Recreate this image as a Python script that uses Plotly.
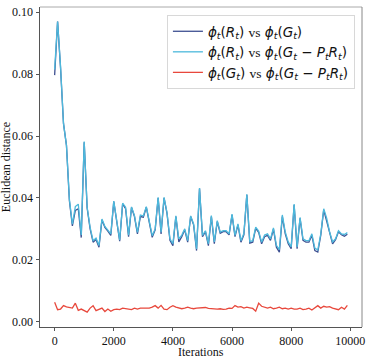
import plotly.graph_objects as go

iterations = list(range(0, 10000, 100))

dist_R_G = [
    0.0797, 0.0970, 0.0820, 0.0640, 0.0570, 0.0390, 0.0310, 0.0360, 0.0365, 0.0272,
    0.0580, 0.0367, 0.0300, 0.0257, 0.0266, 0.0241, 0.0329, 0.0305, 0.0293, 0.0279,
    0.0388, 0.0318, 0.0260, 0.0381, 0.0365, 0.0275, 0.0369, 0.0340, 0.0284, 0.0340,
    0.0338, 0.0370, 0.0318, 0.0273, 0.0297, 0.0400, 0.0284, 0.0400, 0.0350, 0.0263,
    0.0246, 0.0340, 0.0258, 0.0275, 0.0297, 0.0257, 0.0340, 0.0313, 0.0230, 0.0430,
    0.0275, 0.0291, 0.0246, 0.0340, 0.0252, 0.0324, 0.0286, 0.0291, 0.0291, 0.0281,
    0.0345, 0.0275, 0.0313, 0.0257, 0.0281, 0.0410, 0.0254, 0.0257, 0.0302, 0.0289,
    0.0252, 0.0275, 0.0279, 0.0263, 0.0299, 0.0241, 0.0225, 0.0340, 0.0284, 0.0252,
    0.0236, 0.0377, 0.0236, 0.0334, 0.0263, 0.0257, 0.0257, 0.0279, 0.0230, 0.0225,
    0.0279, 0.0361, 0.0325, 0.0284, 0.0252, 0.0265, 0.0291, 0.0281, 0.0276, 0.0283,
]

dist_R_GPR = [
    0.0815, 0.0970, 0.0825, 0.0640, 0.0570, 0.0395, 0.0315, 0.0372, 0.0380, 0.0280,
    0.0582, 0.0370, 0.0305, 0.0262, 0.0270, 0.0246, 0.0332, 0.0308, 0.0296, 0.0284,
    0.0390, 0.0320, 0.0264, 0.0383, 0.0370, 0.0280, 0.0371, 0.0343, 0.0289, 0.0345,
    0.0342, 0.0372, 0.0321, 0.0278, 0.0300, 0.0402, 0.0289, 0.0402, 0.0353, 0.0268,
    0.0252, 0.0342, 0.0268, 0.0280, 0.0300, 0.0262, 0.0342, 0.0316, 0.0235, 0.0432,
    0.0279, 0.0294, 0.0252, 0.0343, 0.0258, 0.0327, 0.0290, 0.0294, 0.0294, 0.0284,
    0.0348, 0.0279, 0.0316, 0.0262, 0.0285, 0.0412, 0.0259, 0.0262, 0.0306, 0.0293,
    0.0257, 0.0280, 0.0284, 0.0268, 0.0303, 0.0247, 0.0233, 0.0345, 0.0290, 0.0258,
    0.0242, 0.0380, 0.0242, 0.0337, 0.0268, 0.0262, 0.0262, 0.0284, 0.0238, 0.0232,
    0.0283, 0.0365, 0.0335, 0.0290, 0.0258, 0.0268, 0.0294, 0.0284, 0.0282, 0.0288,
]

dist_G_GPR = [
    0.0063, 0.0039, 0.0041, 0.0052, 0.0048, 0.0047, 0.0044, 0.0060, 0.0037, 0.0041,
    0.0037, 0.0031, 0.0044, 0.0052, 0.0036, 0.0041, 0.0044, 0.0033, 0.0041, 0.0034,
    0.0039, 0.0041, 0.0039, 0.0044, 0.0042, 0.0041, 0.0039, 0.0044, 0.0041, 0.0044,
    0.0044, 0.0042, 0.0044, 0.0047, 0.0052, 0.0044, 0.0053, 0.0041, 0.0039, 0.0047,
    0.0052, 0.0047, 0.0044, 0.0042, 0.0044, 0.0047, 0.0044, 0.0042, 0.0044, 0.0044,
    0.0044, 0.0046, 0.0043, 0.0042, 0.0041, 0.0041, 0.0042, 0.0040, 0.0041, 0.0044,
    0.0043, 0.0052, 0.0047, 0.0049, 0.0044, 0.0047, 0.0045, 0.0043, 0.0034, 0.0060,
    0.0050, 0.0047, 0.0044, 0.0047, 0.0042, 0.0044, 0.0047, 0.0042, 0.0044, 0.0041,
    0.0044, 0.0041, 0.0041, 0.0044, 0.0039, 0.0041, 0.0044, 0.0038, 0.0044, 0.0052,
    0.0044, 0.0050, 0.0047, 0.0049, 0.0044, 0.0042, 0.0039, 0.0047, 0.0041, 0.0053,
]

VS = "<span style='font-family:\"Liberation Serif\",serif'>vs</span>"
series_names = [
    "<i>ϕ<sub>t</sub></i>(<i>R<sub>t</sub></i>) " + VS + " <i>ϕ<sub>t</sub></i>(<i>G<sub>t</sub></i>)",
    "<i>ϕ<sub>t</sub></i>(<i>R<sub>t</sub></i>) " + VS + " <i>ϕ<sub>t</sub></i>(<i>G<sub>t</sub></i> − <i>P<sub>t</sub>R<sub>t</sub></i>)",
    "<i>ϕ<sub>t</sub></i>(<i>G<sub>t</sub></i>) " + VS + " <i>ϕ<sub>t</sub></i>(<i>G<sub>t</sub></i> − <i>P<sub>t</sub>R<sub>t</sub></i>)",
]
colors = ["#3d4f91", "#4db9dc", "#e8483c"]

x_ticks = [0, 2000, 4000, 6000, 8000, 10000]
y_ticks = [0.00, 0.02, 0.04, 0.06, 0.08, 0.10]

fig = go.Figure()
for vals, name, col in zip([dist_R_G, dist_R_GPR, dist_G_GPR], series_names, colors):
    fig.add_trace(go.Scatter(x=iterations, y=vals, mode="lines", name=name,
                             line=dict(color=col, width=1.3)))

SERIF = "Liberation Serif, Times New Roman, serif"
axis_font = dict(family=SERIF, size=12, color="#111")
fig.update_layout(
    width=372, height=360,
    margin=dict(l=40, r=10, t=7, b=33, autoexpand=False),
    paper_bgcolor="white", plot_bgcolor="white",
    showlegend=True,
    font=dict(family=SERIF),
    legend=dict(x=0.978, y=0.975, xanchor="right", yanchor="top",
                bgcolor="rgba(255,255,255,0.85)", bordercolor="#d8d8d8", borderwidth=1,
                font=dict(family="DejaVu Sans", size=13.5, color="#111"),
                tracegroupgap=0, itemwidth=30),
    xaxis=dict(range=[-495, 10395], tickvals=x_ticks, ticktext=[str(v) for v in x_ticks],
               showgrid=False, zeroline=False, showline=True, linecolor="#555", linewidth=1,
               ticks="outside", ticklen=3, tickcolor="#555", tickfont=axis_font,
               automargin=False),
    yaxis=dict(range=[-0.0017, 0.1017], tickvals=y_ticks, ticktext=["%.2f" % v for v in y_ticks],
               showgrid=False, zeroline=False, showline=True, linecolor="#555", linewidth=1,
               ticks="outside", ticklen=3.5, tickcolor="#555", tickfont=axis_font,
               automargin=False),
    annotations=[
        dict(text="Iterations", xref="paper", yref="paper", x=0.5, y=-0.078,
             xanchor="center", yanchor="middle", showarrow=False, font=axis_font),
        dict(text="Euclidean distance", xref="paper", yref="paper", x=-0.105, y=0.5,
             xanchor="center", yanchor="middle", textangle=-90, showarrow=False, font=axis_font),
    ],
    shapes=[
        dict(type="line", xref="paper", yref="paper", x0=0, x1=1, y0=1, y1=1,
             line=dict(color="#aaa", width=1)),
        dict(type="line", xref="paper", yref="paper", x0=1, x1=1, y0=0, y1=1,
             line=dict(color="#888", width=1)),
    ],
)

fig.write_html("out.html", config={"displayModeBar": False},
               post_script="document.body.style.margin='0px';document.body.style.overflow='hidden';")
